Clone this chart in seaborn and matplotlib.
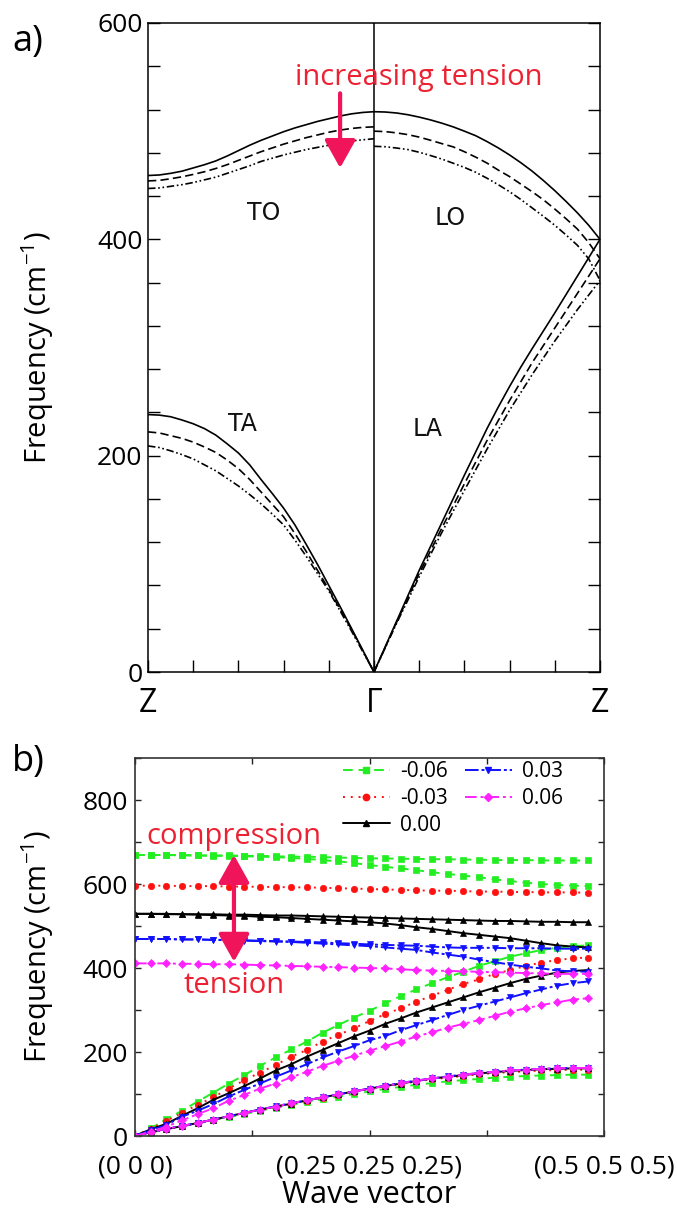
import matplotlib
matplotlib.use("Agg")
import matplotlib.pyplot as plt
import seaborn as sns
from matplotlib.ticker import MultipleLocator
from matplotlib.patches import FancyArrowPatch, ArrowStyle
from matplotlib.lines import Line2D

sns.set_theme(style="white")
plt.rcParams['font.family'] = ['Open Sans', 'DejaVu Sans']
plt.rcParams['mathtext.default'] = 'regular'
for key in ['text.color', 'axes.labelcolor', 'xtick.color', 'ytick.color']:
    plt.rcParams[key] = 'black'

# ---------------- panel a data (Z -> Gamma -> Z) ----------------
q_left = [-1.0, -0.95, -0.9, -0.85, -0.8, -0.75, -0.7, -0.65, -0.6, -0.55, -0.5,
          -0.45, -0.4, -0.35, -0.3, -0.25, -0.2, -0.15, -0.1, -0.05, 0.0]
q_right = [0.0, 0.05, 0.1, 0.15, 0.2, 0.25, 0.3, 0.35, 0.4, 0.45, 0.5,
           0.55, 0.6, 0.65, 0.7, 0.75, 0.8, 0.85, 0.9, 0.95, 1.0]

TO_solid = [459, 459.5, 461, 463, 466, 469, 472.5, 477, 482, 487, 491.5,
            495.5, 499.5, 503, 506, 509, 511.5, 514, 516, 517.3, 518]
TO_dash = [454, 454.5, 456, 457.8, 460, 462.5, 465.5, 469, 473, 477, 481,
           484.5, 488, 491, 494, 496.5, 499, 501, 502.5, 503.5, 504]
TO_dashdot = [447, 447.5, 449, 450.5, 452.5, 455, 457.5, 461, 464.5, 468, 472,
              475, 478, 480.5, 483, 485, 487, 489, 491, 492, 493]

TA_solid = [238, 237.5, 236, 233, 229.5, 225, 219, 211, 202.5, 191.5, 178,
            165, 151.5, 136, 118, 99.5, 80, 60.5, 40.5, 20.3, 0]
TA_dash = [222, 221, 218.5, 216, 212.5, 208, 203, 196, 188, 178, 166.5,
           155, 143.5, 128, 111.5, 94, 76.5, 58, 39.5, 19.8, 0]
TA_dashdot = [209, 207.5, 204.5, 201, 197, 191.5, 186, 179, 172, 164, 155.5,
              146, 136, 122, 107, 91, 75, 56.5, 38, 19, 0]

LO_solid = [518, 517.7, 516.8, 515.2, 513, 510.4, 507.4, 504, 500, 495.8, 490.4,
            484.5, 478, 470.8, 463, 454.3, 445, 435, 424.5, 413, 400]
LO_dash = [500, 499.6, 498.4, 496.8, 494.5, 491.6, 488.5, 485.5, 481, 476, 470.5,
           464, 458, 451, 444, 436.5, 428, 419, 409.5, 397, 382]
LO_dashdot = [486, 485.6, 484.4, 483, 480.5, 477.5, 474.2, 470.4, 466.5, 462, 456.5,
              450.5, 444, 436.8, 429, 421.2, 413, 404, 394.5, 382, 362]

LA_solid = [0, 23.5, 47, 70.5, 94, 116, 138, 160, 182, 203.5, 225,
            245, 264, 282, 299, 315.5, 332, 349, 366, 383, 400]
LA_dash = [0, 23, 46, 68.5, 91, 112, 133, 153.5, 174, 194, 214,
           232.5, 251, 268.5, 286, 302, 318, 334, 350, 366, 382]
LA_dashdot = [0, 22.5, 45, 66.5, 88, 108.5, 129, 148.5, 168, 187, 206,
              224, 242, 258.5, 275, 290.5, 306, 320.5, 335, 348.5, 362]

a_xticklabels = ['Z', 'Γ', 'Z']
a_mode_labels = ['TO', 'LO', 'TA', 'LA']

# ---------------- panel b data ----------------
k_index = list(range(30))
strain_labels = ['-0.06', '-0.03', '0.00', '0.03', '0.06']

green_TO = [669, 669, 669, 669, 668, 668, 668, 667, 667, 666, 665, 665, 664, 663, 662, 661, 661, 660, 660, 659, 659, 658, 658, 657, 657, 657, 656, 656, 656, 656]
green_LO = [669, 669, 669, 668, 668, 667, 667, 666, 665, 664, 662, 660, 657, 654, 650, 645, 641, 637, 633, 628, 624, 620, 616, 611, 607, 603, 600, 598, 596, 595]
green_LA = [0, 18, 40, 60, 82, 103, 125, 145, 167, 187, 206, 225, 246, 264, 282, 298, 316, 333, 349, 364, 378, 391, 405, 416, 427, 435, 443, 448, 452, 454]
green_TA = [0, 8, 16, 23, 30, 38, 45, 52, 60, 67, 74, 81, 87, 94, 100, 106, 112, 117, 122, 126, 130, 133, 136, 139, 141, 143, 144, 145, 146, 146]

red_TO = [596, 596, 596, 595, 595, 595, 594, 594, 593, 593, 592, 592, 591, 590, 589, 588, 587, 586, 585, 584, 584, 583, 582, 582, 581, 581, 580, 580, 580, 579]
red_LA = [0, 17, 36, 55, 74, 92, 113, 133, 151, 169, 189, 205, 225, 241, 256, 274, 290, 304, 320, 334, 348, 362, 373, 386, 395, 405, 413, 419, 423, 425]
red_TA = [0, 9, 17, 23, 31, 39, 47, 55, 62, 70, 77, 84, 91, 98, 105, 112, 118, 124, 130, 135, 139, 143, 147, 150, 152, 154, 156, 157, 158, 158]

black_TO = [529, 529, 529, 528, 528, 528, 527, 527, 526, 525, 525, 524, 523, 522, 521, 520, 519, 518, 517, 516, 515, 514, 513, 512, 512, 511, 510, 510, 509, 509]
black_LO = [529, 529, 528, 528, 527, 526, 525, 524, 522, 521, 519, 517, 515, 513, 511, 509, 506, 502, 497, 493, 488, 483, 479, 475, 471, 465, 459, 454, 451, 449]
black_LA = [0, 16, 29, 48, 66, 86, 102, 119, 137, 156, 171, 189, 205, 221, 237, 251, 267, 280, 294, 306, 318, 330, 342, 353, 364, 374, 382, 389, 393, 395]
black_TA = [0, 9, 17, 23, 31, 39, 47, 55, 63, 70, 77, 85, 92, 99, 106, 113, 119, 125, 131, 137, 141, 145, 149, 152, 155, 157, 159, 160, 161, 161]

blue_TO = [469, 469, 469, 468, 468, 467, 467, 466, 465, 464, 463, 462, 461, 459, 458, 456, 455, 454, 453, 451, 449, 448, 448, 448, 447, 447, 447, 446, 446, 446]
blue_LO = [469, 469, 469, 468, 468, 467, 466, 465, 464, 463, 462, 460, 458, 456, 454, 452, 449, 446, 443, 437, 432, 427, 420, 414, 408, 403, 399, 394, 392, 391]
blue_LA = [0, 14, 26, 46, 60, 76, 94, 110, 125, 141, 156, 171, 187, 201, 214, 228, 238, 252, 264, 276, 288, 300, 310, 320, 330, 340, 349, 358, 364, 368]
blue_TA = [0, 9, 17, 24, 31, 39, 47, 55, 63, 71, 78, 85, 92, 99, 106, 113, 120, 126, 132, 137, 142, 146, 150, 153, 156, 158, 160, 161, 162, 162]

magenta_TO = [411, 411, 411, 410, 410, 409, 409, 408, 407, 406, 405, 404, 403, 402, 401, 400, 399, 397, 395, 394, 393, 392, 391, 390, 389, 388, 387, 386, 386, 386]
magenta_LA = [0, 10, 22, 37, 52, 66, 84, 98, 113, 125, 140, 153, 167, 179, 191, 203, 214, 225, 237, 247, 258, 267, 276, 286, 296, 304, 312, 318, 325, 328]
magenta_TA = [0, 9, 17, 24, 31, 39, 47, 55, 63, 70, 78, 85, 92, 99, 106, 113, 119, 126, 132, 137, 141, 146, 150, 153, 156, 158, 160, 161, 162, 162]

b_xticklabels = ['(0 0 0)', '', '(0.25 0.25 0.25)', '', '(0.5 0.5 0.5)']

# ---------------- figure ----------------
W, H = 677, 1216
fig = plt.figure(figsize=(W / 100, H / 100), dpi=100)
RED_TXT = '#ec2233'
ARROW_C = '#f0145a'

# ---------- panel a ----------
ax = fig.add_axes([148 / W, 1 - 672 / H, 452 / W, 649 / H])
ls_solid = '-'
ls_dash = (0, (5, 2.5))
ls_dd = (0, (4.5, 1.6, 1.0, 1.6, 1.0, 1.6))
for xs, series in [(q_left, [TO_solid, TO_dash, TO_dashdot]),
                   (q_left, [TA_solid, TA_dash, TA_dashdot]),
                   (q_right, [LO_solid, LO_dash, LO_dashdot]),
                   (q_right, [LA_solid, LA_dash, LA_dashdot])]:
    for vals, ls in zip(series, [ls_solid, ls_dash, ls_dd]):
        sns.lineplot(x=xs, y=vals, ax=ax, color='black', lw=1.2, linestyle=ls,
                     estimator=None, sort=False, legend=False)
ax.axvline(0, color='black', lw=1.1)
ax.set_xlim(-1, 1)
ax.set_ylim(0, 600)
ax.set_xticks([-1, 0, 1])
ax.set_xticklabels(a_xticklabels, fontsize=23)
ax.xaxis.set_minor_locator(MultipleLocator(0.2))
ax.set_yticks([0, 200, 400, 600])
ax.yaxis.set_minor_locator(MultipleLocator(40))
ax.tick_params(axis='both', which='both', direction='in', length=8.5, width=1.0,
               color='black', left=True, right=True, top=False, bottom=True)
ax.tick_params(axis='y', which='major', labelsize=19, pad=4)
ax.tick_params(axis='x', which='major', pad=11)
for s in ax.spines.values():
    s.set_color('black')
    s.set_linewidth(1.1)
ax.set_ylabel('Frequency (cm$^{-1}$)', fontsize=21)
ax.yaxis.set_label_coords((56 - 148) / 452, 0.5)
mode_pos = [(-0.487, 424), (0.336, 420), (-0.58, 229), (0.239, 225)]
for lab, (xx, yy) in zip(a_mode_labels, mode_pos):
    ax.text(xx, yy, lab, fontsize=17, ha='center', va='center',
            family=['DejaVu Sans'], color='#111111')
ax.text(0.2, 543, 'increasing tension', color=RED_TXT, fontsize=21,
        ha='center', va='baseline')
ax.add_patch(FancyArrowPatch((-0.15, 535), (-0.15, 466),
                             arrowstyle=ArrowStyle('-|>', head_length=17, head_width=9.5),
                             mutation_scale=1, lw=3, color=ARROW_C,
                             shrinkA=0, shrinkB=0, zorder=5))
fig.text(12 / W, 1 - 42 / H, 'a)', fontsize=26, ha='left', va='center')

# ---------- panel b ----------
bx = fig.add_axes([135 / W, 1 - 1136 / H, 469 / W, 378 / H])
styles = [
    ('#22ee22', (0, (5, 3)), 's', 4.0, [green_TO, green_LO, green_LA, green_TA]),
    ('#ff1111', (0, (1, 3)), 'o', 4.6, [red_TO, red_LA, red_TA]),
    ('#000000', '-', '^', 4.4, [black_TO, black_LO, black_LA, black_TA]),
    ('#1111ff', (0, (7, 1.5, 1.5, 1.5)), 'v', 4.4, [blue_TO, blue_LO, blue_LA, blue_TA]),
    ('#ff22ff', (0, (6, 2, 1.5, 2)), 'D', 3.6, [magenta_TO, magenta_LA, magenta_TA]),
]
handles = []
for (col, ls, mk, ms, branches), lab in zip(styles, strain_labels):
    for vals in branches:
        sns.lineplot(x=k_index, y=vals, ax=bx, color=col, lw=1.4, linestyle=ls,
                     marker=mk, markersize=ms, markeredgecolor=col,
                     markerfacecolor=col, markeredgewidth=0.5,
                     estimator=None, sort=False, legend=False)
    handles.append(Line2D([], [], color=col, lw=1.4, linestyle=ls, marker=mk,
                          markersize=ms, markeredgecolor=col, markerfacecolor=col))
bx.set_xlim(0, 30)
bx.set_ylim(0, 900)
bx.set_xticks([0, 7.5, 15, 22.5, 30])
bx.set_xticklabels(b_xticklabels, fontsize=19)
bx.set_yticks([0, 200, 400, 600, 800])
bx.yaxis.set_minor_locator(MultipleLocator(100))
bx.tick_params(axis='both', which='both', direction='in', length=4.5, width=1.0,
               color='#222222', left=True, right=True, top=True, bottom=True)
bx.tick_params(axis='y', which='major', labelsize=19, pad=5)
bx.tick_params(axis='x', which='major', pad=13)
for s in bx.spines.values():
    s.set_color('#333333')
    s.set_linewidth(1.2)
bx.set_xlabel('Wave vector', fontsize=22, labelpad=1)
bx.set_ylabel('Frequency (cm$^{-1}$)', fontsize=21)
bx.yaxis.set_label_coords((56 - 135) / 469, 0.5)
bx.legend(handles, strain_labels, ncol=2, frameon=False, fontsize=15,
          loc='upper left', bbox_to_anchor=((343 - 135) / 469, (1136 - 761) / 378),
          borderpad=0, borderaxespad=0, handlelength=2.25, handletextpad=0.5,
          columnspacing=0.8, labelspacing=0.28)
bx.text(6.33, 695, 'compression', color=RED_TXT, fontsize=21, ha='center', va='baseline')
bx.text(6.33, 340, 'tension', color=RED_TXT, fontsize=21, ha='center', va='baseline')
bx.add_patch(FancyArrowPatch((6.33, 415), (6.33, 669),
                             arrowstyle=ArrowStyle('<|-|>', head_length=17, head_width=9.5),
                             mutation_scale=1, lw=3, color=ARROW_C,
                             shrinkA=0, shrinkB=0, zorder=6))
fig.text(12 / W, 1 - 762 / H, 'b)', fontsize=26, ha='left', va='center')

fig.savefig('out.png', dpi=100)
